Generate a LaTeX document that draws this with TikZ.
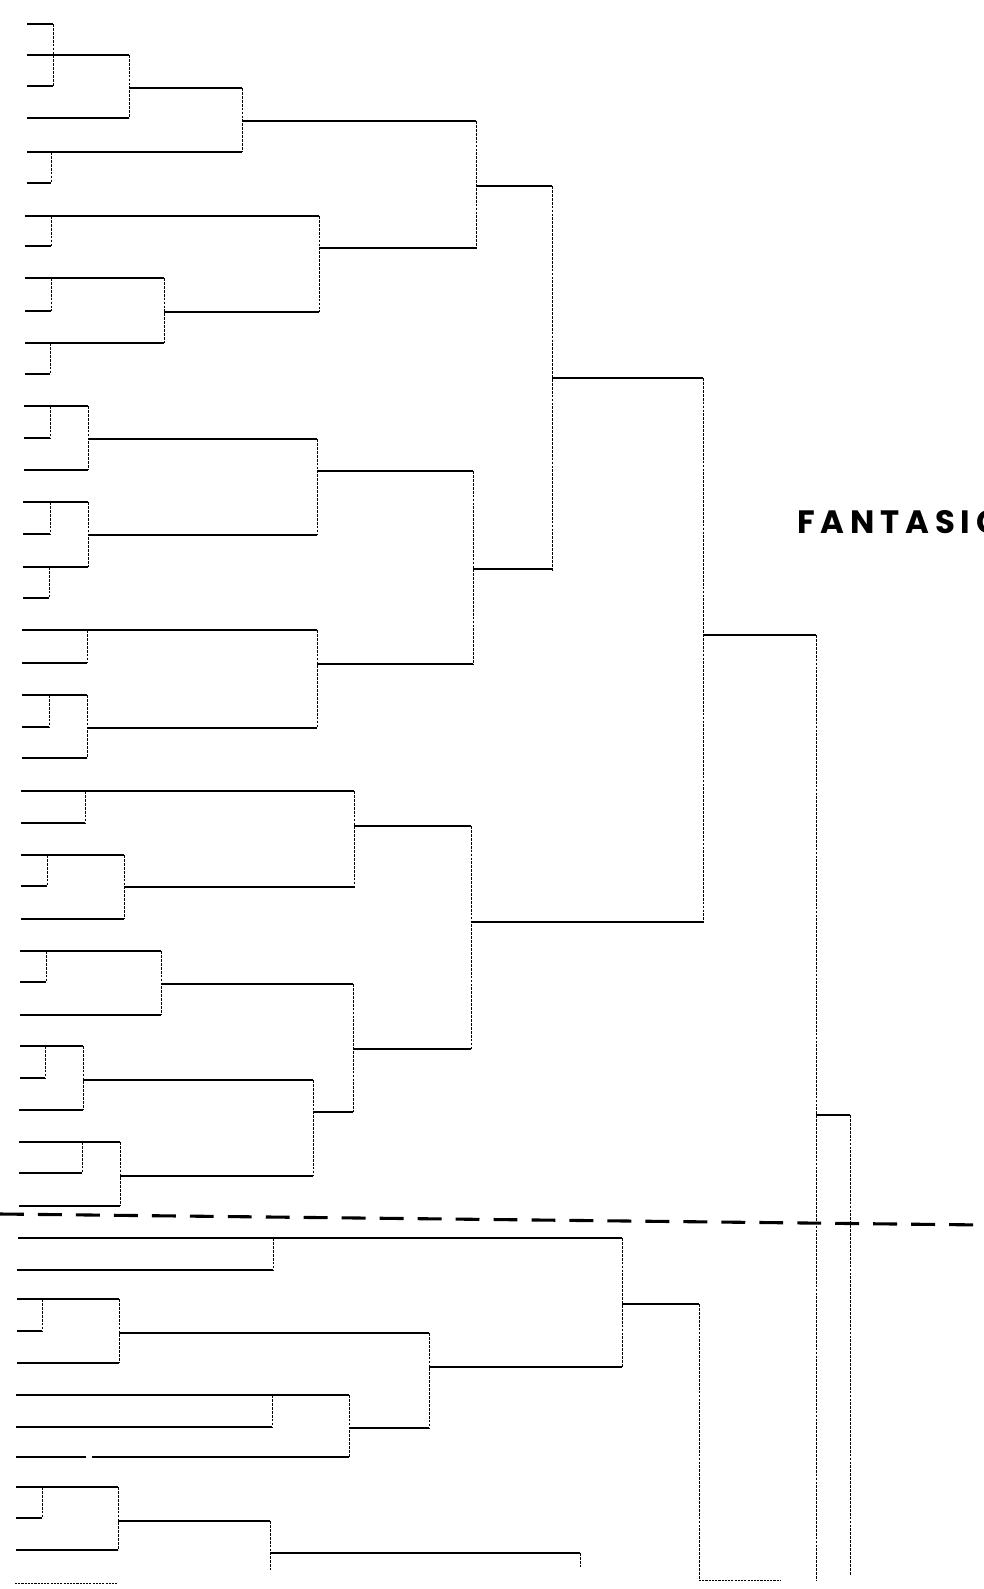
\documentclass[tikz,border=0pt]{standalone}
\usepackage{fontspec}
\usepackage{tikz}
\newfontfamily\titlefont[LetterSpace=18]{Poppins}
\usetikzlibrary{positioning}

\begin{document}
\begin{tikzpicture}[
  x=0.025cm,y=-0.025cm,
  hline/.style={line width=1.25pt},
  vline/.style={line width=0.6pt,dash pattern=on 2pt off 0.8pt},
  faint/.style={line width=0.6pt,dash pattern=on 1.5pt off 0.8pt},
  cutline/.style={line width=2.2pt,dash pattern=on 17pt off 10pt}
]
\useasboundingbox (0,0) rectangle (984,1589);
% horizontal branches: y / from x / to x
\foreach \y/\a/\b in {24/27/53, 55/27/129, 86/27/53, 118/27/129, 88/129/242,
  152/27/242, 183/27/51, 121/242/476, 216/25/319, 246/25/51, 248/319/476,
  278/25/164, 311/25/51, 312/164/319, 343/25/164, 374/25/50, 186/476/552,
  378/552/703,
  406/24/88, 438/24/50, 439/88/317, 470/24/88, 502/23/88, 534/23/50,
  535/88/317, 567/23/88, 598/23/49, 471/317/473, 630/22/317, 663/22/87,
  695/22/87, 727/22/49, 728/87/317, 758/22/87, 664/317/473, 569/473/552,
  922/471/703, 635/703/816,
  791/21/354, 823/21/85, 855/21/124, 886/21/47, 887/124/354, 919/21/124,
  826/354/471, 951/20/161, 982/20/46, 984/161/353, 1015/20/161, 1046/20/83,
  1078/20/45, 1080/83/313, 1110/19/83, 1142/19/120, 1173/19/82, 1176/120/313,
  1206/19/120, 1112/313/353, 1049/353/471, 1115/816/850,
  1238/18/622, 1270/17/273, 1299/17/119, 1331/17/42, 1333/119/429,
  1363/17/119, 1395/16/349, 1427/16/272, 1457/16/86, 1457/92/349,
  1428/349/429, 1367/429/622, 1304/622/699, 1487/16/118, 1518/16/42,
  1521/118/270, 1550/16/118, 1553/270/580}
  \draw[hline] (\a,\y) -- (\b,\y);
% vertical joins: x / from y / to y
\foreach \x/\a/\b in {53/24/86, 129/55/118, 242/88/152, 51/152/183, 51/216/246,
  319/216/312, 51/278/311, 164/278/343, 50/343/374, 476/121/249, 552/186/571,
  703/378/923, 816/635/1580,
  50/406/438, 88/406/470, 317/439/535, 50/502/534, 88/502/567, 49/567/598,
  87/630/663, 317/630/728, 49/695/727, 87/695/758, 473/471/664,
  85/791/823, 354/791/888, 47/855/886, 124/855/919, 471/826/1049,
  46/951/982, 161/951/1015, 353/984/1112, 45/1046/1078, 83/1046/1110,
  313/1080/1176, 82/1142/1173, 120/1142/1206, 850/1115/1575,
  273/1238/1270, 42/1299/1331, 119/1299/1363, 272/1395/1427, 349/1395/1457,
  429/1333/1428, 622/1238/1367, 699/1304/1580, 42/1487/1518, 118/1487/1550,
  270/1521/1570, 580/1553/1567}
  \draw[vline] (\x,\a) -- (\x,\b);
% faint leftovers at the bottom edge
\draw[faint] (15,1583) -- (118,1583);
\draw[faint] (699,1580) -- (780,1580);
% cut level
\coordinate (cutL) at (0,1214);
\coordinate (cutR) at (984,1225);
\draw[cutline] (cutL) -- (cutR);
\node[anchor=base west,inner sep=0pt,font=\titlefont\bfseries\fontsize{23}{23}\selectfont] (title) at (797,533) {FANTASIC};
\end{tikzpicture}
\end{document}
